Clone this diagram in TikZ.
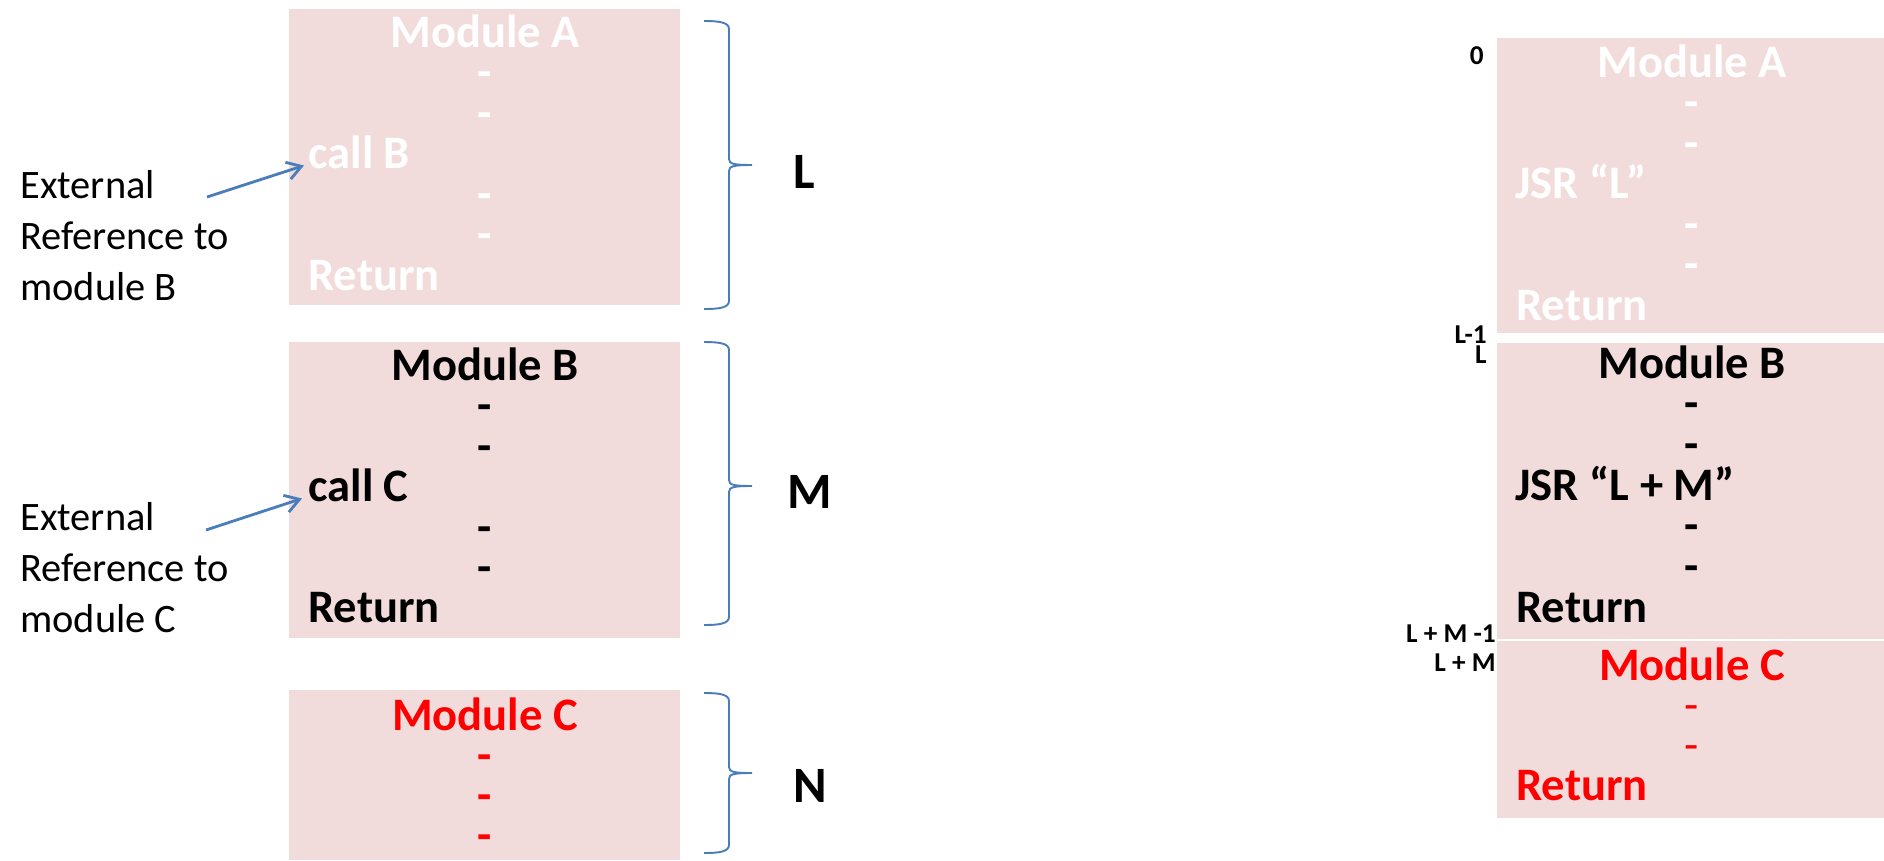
\documentclass[tikz,border=0pt]{standalone}
\usepackage{fontspec}
\setmainfont{Carlito}
\usetikzlibrary{arrows.meta}
\definecolor{boxpink}{HTML}{F2DCDB}
\definecolor{refblue}{HTML}{4A7EBB}
\definecolor{modred}{HTML}{FF0000}

% right curly brace: top end, tip, bottom end (y in px)
\newcommand{\sizebrace}[3]{%
  \draw[brc] (704,#1) .. controls (718,#1) and (729,#1+1) .. (729,#1+8)
    -- (729,#2-6) .. controls (729,#2-1) and (734,#2) .. (752,#2)
    .. controls (734,#2) and (729,#2+1) .. (729,#2+6)
    -- (729,#3-8) .. controls (729,#3-1) and (718,#3) .. (704,#3);}

\begin{document}
\begin{tikzpicture}[
    x = 0.02cm, y = -0.02cm,
    mod box/.style = {fill=boxpink, draw=none},
    mod txt/.style = {font=\fontsize{26.5}{32}\selectfont\bfseries, inner sep=0, anchor=base},
    line txt/.style = {mod txt, anchor=base west},
    thin dash/.style = {font=\fontsize{26.5}{32}\selectfont, inner sep=0, anchor=base},
    size lbl/.style = {font=\fontsize{29}{34}\selectfont\bfseries, inner sep=0, anchor=base west},
    addr lbl/.style = {font=\fontsize{15.5}{18}\selectfont\bfseries, inner sep=0, anchor=base east},
    ext lbl/.style = {font=\fontsize{23}{28.9}\selectfont, align=left, inner sep=0, anchor=base west},
    ext ref/.style = {refblue, line width=1.6pt, -{Straight Barb[length=8pt,width=10pt]}},
    brc/.style = {refblue, line width=1.1pt}
]
\useasboundingbox (0,0) rectangle (1884,860);

% ---- separate modules
\path[mod box] (289,9) rectangle (680,305);
\path[mod box] (289,342) rectangle (680,638);
\path[mod box] (289,690) rectangle (680,860);

\node[mod txt, white] (modA) at (485,47) {Module A};
\foreach \k [count=\i] in {1,2,4,5}
    \node[mod txt, white] (dA\i) at (485,47+40.5*\k) {-};
\node[line txt, white] (callB) at (308,168.5) {call B};
\node[line txt, white] (retA) at (308,290) {Return};

\node[mod txt] (modB) at (485,380) {Module B};
\foreach \k [count=\i] in {1,2,4,5}
    \node[mod txt] (dB\i) at (485,380+40.5*\k) {-};
\node[line txt] (callC) at (308,501.5) {call C};
\node[line txt] (retB) at (308,622) {Return};

\node[mod txt, modred] (modC) at (485,730) {Module C};
\foreach \k [count=\i] in {1,2,3}
    \node[mod txt, modred] (dC\i) at (485,730+40*\k) {-};

% ---- braces and sizes
\sizebrace{21}{165}{309}
\node[size lbl] (szL) at (793,188) {L};
\sizebrace{342}{486}{625}
\node[size lbl] (szM) at (787,508) {M};
\sizebrace{693}{773}{853}
\node[size lbl] (szN) at (793,802) {N};

% ---- external references (base = last line)
\node[ext lbl] (extB) at (20,300) {External\\Reference to\\module B};
\coordinate (extBend) at (207,197);
\draw[ext ref] (extBend) -- ([shift={(-4,-3)}]callB.base west);

\node[ext lbl] (extC) at (20,632) {External\\Reference to\\module C};
\coordinate (extCend) at (206,530);
\draw[ext ref] (extCend) -- ([shift={(-6,-3)}]callC.base west);

% ---- linked program
\path[mod box] (1497,38) rectangle (1884,333);
\path[mod box] (1497,343) rectangle (1884,639);
\path[mod box] (1497,641) rectangle (1884,818);

\node[mod txt, white] (lmodA) at (1692,77) {Module A};
\foreach \k [count=\i] in {1,2,4,5}
    \node[mod txt, white] (ldA\i) at (1692,77+40.5*\k) {-};
\node[line txt, white] (jsrA) at (1515,198.5) {JSR “L”};
\node[line txt, white] (lretA) at (1516,320) {Return};

\node[mod txt] (lmodB) at (1692,378) {Module B};
\foreach \k [count=\i] in {1,2,4,5}
    \node[mod txt] (ldB\i) at (1692,378+40.7*\k) {-};
\node[line txt] (jsrB) at (1515,500) {JSR “L + M”};
\node[line txt] (lretB) at (1516,622) {Return};

\node[mod txt, modred] (lmodC) at (1692,680) {Module C};
\foreach \k [count=\i] in {1,2}
    \node[thin dash, modred] (ldC\i) at (1692,680+40*\k) {-};
\node[line txt, modred] (lretC) at (1516,800) {Return};

% ---- addresses
\node[addr lbl] (ad0) at (1484,64) {0};
\node[addr lbl] (adL1) at (1487,343) {L-1};
\node[addr lbl] (adL) at (1487,363) {L};
\node[addr lbl] (adLM1) at (1496,642) {L + M -1};
\node[addr lbl] (adLM) at (1496,671) {L + M};

\end{tikzpicture}
\end{document}
